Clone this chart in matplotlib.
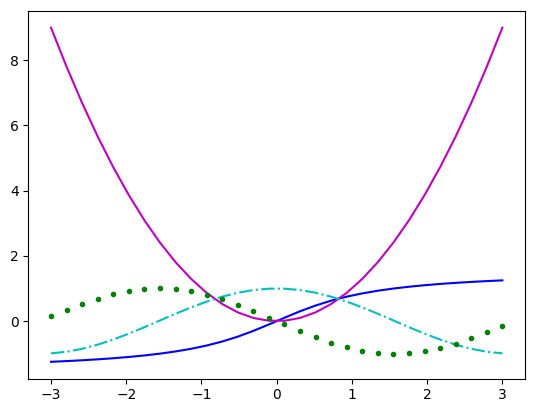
import matplotlib
matplotlib.use("Agg")
import matplotlib.pyplot as plt

# 30 sample positions from -3 to 3
x = [-3.0, -2.7931, -2.5862, -2.3793, -2.1724, -1.9655, -1.7586, -1.5517, -1.3448, -1.1379,
     -0.9310, -0.7241, -0.5172, -0.3103, -0.1034, 0.1034, 0.3103, 0.5172, 0.7241, 0.9310,
     1.1379, 1.3448, 1.5517, 1.7586, 1.9655, 2.1724, 2.3793, 2.5862, 2.7931, 3.0]

square = [9.0, 7.8014, 6.6884, 5.6611, 4.7193, 3.8632, 3.0927, 2.4078, 1.8085, 1.2948,
          0.8668, 0.5243, 0.2675, 0.0963, 0.0107, 0.0107, 0.0963, 0.2675, 0.5243, 0.8668,
          1.2948, 1.8085, 2.4078, 3.0927, 3.8632, 4.7193, 5.6611, 6.6884, 7.8014, 9.0]

atan = [-1.2490, -1.2270, -1.2018, -1.1729, -1.1395, -1.1002, -1.0539, -0.9986, -0.9316, -0.8498,
        -0.7497, -0.6269, -0.4774, -0.3009, -0.1030, 0.1030, 0.3009, 0.4774, 0.6269, 0.7497,
        0.8498, 0.9316, 0.9986, 1.0539, 1.1002, 1.1395, 1.1729, 1.2018, 1.2270, 1.2490]

cosv = [-0.9900, -0.9399, -0.8497, -0.7233, -0.5660, -0.3845, -0.1867, 0.0191, 0.2241, 0.4195,
        0.5970, 0.7491, 0.8692, 0.9522, 0.9947, 0.9947, 0.9522, 0.8692, 0.7491, 0.5970,
        0.4195, 0.2241, 0.0191, -0.1867, -0.3845, -0.5660, -0.7233, -0.8497, -0.9399, -0.9900]

negsin = [0.1411, 0.3415, 0.5273, 0.6906, 0.8244, 0.9231, 0.9824, 0.9998, 0.9746, 0.9078,
          0.8022, 0.6625, 0.4945, 0.3053, 0.1032, -0.1032, -0.3053, -0.4945, -0.6625, -0.8022,
          -0.9078, -0.9746, -0.9998, -0.9824, -0.9231, -0.8244, -0.6906, -0.5273, -0.3415, -0.1411]

fig = plt.figure(figsize=(5.34, 4.13), dpi=100)
ax = fig.add_axes([0.0533, 0.0835, 0.9297, 0.8899])

ax.plot(x, atan, 'b-')
ax.plot(x, square, 'm-')
ax.plot(x, cosv, 'c-.')
ax.plot(x, negsin, 'g.')

fig.savefig("out.png", dpi=100)
